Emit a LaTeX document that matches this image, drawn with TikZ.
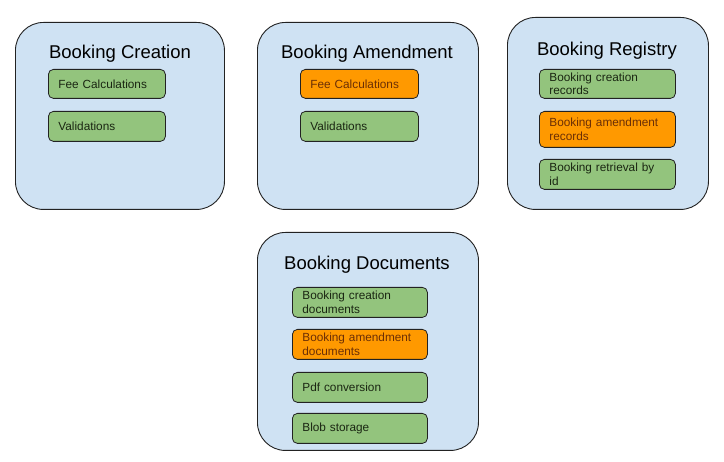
\documentclass[tikz,border=0pt]{standalone}
\usepackage{fontspec}
\setmainfont{Liberation Sans}
\definecolor{bluefill}{HTML}{CFE2F3}
\definecolor{greenfill}{HTML}{93C47D}
\definecolor{orangefill}{HTML}{FF9900}
\definecolor{browntext}{HTML}{6B2F06}
\definecolor{greentext}{HTML}{1A2612}
\definecolor{edgecol}{HTML}{222222}
\begin{document}
\begin{tikzpicture}[x=1pt,y=-1pt,
 outerbox/.style={draw=edgecol, line width=0.9pt, fill=bluefill, rounded corners=28pt, inner sep=0pt, anchor=north west},
 titletext/.style={font=\fontsize{18.5}{22}\selectfont, text=black, inner sep=0pt, anchor=base},
 itembox/.style={draw=edgecol, line width=0.8pt, rounded corners=5pt, anchor=north west, inner xsep=10pt, inner ysep=0pt, align=left, font=\fontsize{11.8}{13.5}\selectfont},
 greenitem/.style={itembox, fill=greenfill, text=greentext},
 orangeitem/.style={itembox, fill=orangefill, text=browntext},
]
\useasboundingbox (0,0) rectangle (724,462);

% Booking Creation
\node[outerbox, minimum width=209pt, minimum height=187pt] (creation) at (15,22) {};
\node[titletext] (creationT) at (120,59) {Booking Creation};
\node[greenitem, text width=97pt, minimum height=29pt] (c1) at (48,69) {Fee Calculations};
\node[greenitem, text width=97pt, minimum height=30pt] (c2) at (48,111) {Validations};

% Booking Amendment
\node[outerbox, minimum width=221pt, minimum height=187pt] (amend) at (257,22) {};
\node[titletext] (amendT) at (367,59) {Booking Amendment};
\node[orangeitem, text width=98pt, minimum height=29pt] (a1) at (300,69) {Fee Calculations};
\node[greenitem, text width=98pt, minimum height=30pt] (a2) at (300,111) {Validations};

% Booking Registry
\node[outerbox, minimum width=201pt, minimum height=192pt] (registry) at (507,17) {};
\node[titletext] (registryT) at (607,56) {Booking Registry};
\node[greenitem, text width=116pt, minimum height=29pt] (r1) at (539,69) {Booking creation\\records};
\node[orangeitem, text width=116pt, minimum height=36pt] (r2) at (539,111) {Booking amendment\\records};
\node[greenitem, text width=116pt, minimum height=30pt] (r3) at (539,159) {Booking retrieval by\\id};

% Booking Documents
\node[outerbox, minimum width=221pt, minimum height=218pt] (docs) at (257,232) {};
\node[titletext] (docsT) at (367,270) {Booking Documents};
\node[greenitem, text width=115pt, minimum height=30pt] (d1) at (292,287) {Booking creation\\documents};
\node[orangeitem, text width=115pt, minimum height=30pt] (d2) at (292,329) {Booking amendment\\documents};
\node[greenitem, text width=115pt, minimum height=30pt] (d3) at (292,372) {Pdf conversion};
\node[greenitem, text width=115pt, minimum height=30pt] (d4) at (292,413) {Blob storage};
\end{tikzpicture}
\end{document}
